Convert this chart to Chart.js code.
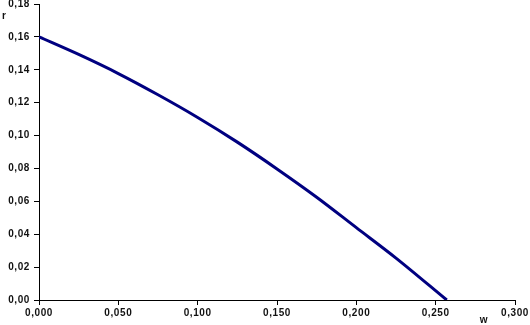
<!DOCTYPE html>
<html>
<head>
<meta charset="utf-8">
<script src="https://cdn.jsdelivr.net/npm/chart.js@4"></script>
<style>
  html, body { margin: 0; padding: 0; background: #fff; }
  #wrap { width: 530px; height: 325px; position: relative; }
</style>
</head>
<body>
<div id="wrap"><canvas id="chart"></canvas></div>
<script>
// curve: w on x, r on y
const wValues = [0.000, 0.025, 0.050, 0.075, 0.100, 0.125, 0.150, 0.175, 0.200, 0.225, 0.257];
const rValues = [0.160, 0.1493, 0.1377, 0.1248, 0.111, 0.096, 0.0797, 0.0625, 0.044, 0.0255, 0.000];
const xTitle = 'w';
const yTitle = 'r';

const points = wValues.map((w, i) => ({ x: w, y: rValues[i] }));

const tickFont = { family: 'Liberation Sans, Arial, sans-serif', size: 10, weight: 'bold' };

// reference text is set a little wider than plain canvas text
const wideText = {
  id: 'wideText',
  beforeDraw(chart) { chart.ctx.letterSpacing = '0.6px'; }
};

// axis titles sit at the corners, not centred
const cornerTitles = {
  id: 'cornerTitles',
  afterDraw(chart) {
    const ctx = chart.ctx;
    const area = chart.chartArea;
    ctx.save();
    ctx.font = 'bold 10px Liberation Sans, Arial, sans-serif';
    ctx.fillStyle = '#111';
    ctx.textBaseline = 'middle';
    ctx.textAlign = 'left';
    ctx.fillText(yTitle, 2, 16);
    ctx.textAlign = 'center';
    ctx.fillText(xTitle, area.right - 31, 320);
    ctx.restore();
  }
};

new Chart(document.getElementById('chart'), {
  type: 'line',
  data: {
    datasets: [{
      data: points,
      borderColor: '#000080',
      borderWidth: 3,
      pointRadius: 0,
      fill: false,
      cubicInterpolationMode: 'monotone'
    }]
  },
  options: {
    responsive: true,
    maintainAspectRatio: false,
    animation: false,
    layout: { padding: { top: 4, right: 15, left: 0, bottom: 0 } },
    plugins: { legend: { display: false }, tooltip: { enabled: false } },
    scales: {
      x: {
        type: 'linear',
        min: 0,
        max: 0.3,
        afterFit: (s) => { s.height = 25; },
        border: { display: true, color: '#000', width: 1 },
        grid: { display: true, drawOnChartArea: false, drawTicks: true, tickLength: 5, color: '#000' },
        ticks: {
          stepSize: 0.05,
          padding: 2,
          maxRotation: 0,
          color: '#111',
          font: tickFont,
          callback: (v) => v.toFixed(3).replace('.', ',')
        }
      },
      y: {
        type: 'linear',
        min: 0,
        max: 0.18,
        afterFit: (s) => { s.width = 39; s.paddingTop = 0; },
        border: { display: true, color: '#000', width: 1 },
        grid: { display: true, drawOnChartArea: false, drawTicks: true, tickLength: 5, color: '#000' },
        ticks: {
          stepSize: 0.02,
          padding: 4,
          color: '#111',
          font: tickFont,
          callback: (v) => v.toFixed(2).replace('.', ',')
        }
      }
    }
  },
  plugins: [wideText, cornerTitles]
});
</script>
</body>
</html>
